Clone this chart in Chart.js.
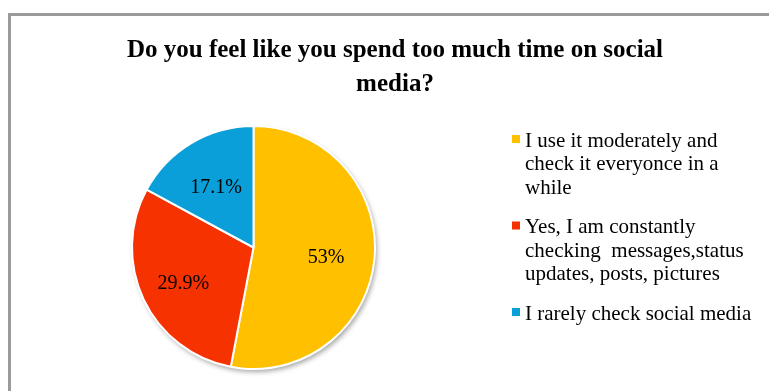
<!DOCTYPE html>
<html>
<head>
<meta charset="utf-8">
<script src="https://cdn.jsdelivr.net/npm/chart.js@4/dist/chart.umd.min.js"></script>
<style>
  html, body { margin: 0; padding: 0; background: #fff; }
  #wrap { width: 769px; height: 391px; position: relative; }
</style>
</head>
<body>
<div id="wrap"><canvas id="pieChart" width="769" height="391"></canvas></div>
<script>
// survey answers
const labels = [
    ['I use it moderately and', 'check it everyonce in a', 'while'],
    ['Yes, I am constantly', 'checking  messages,status', 'updates, posts, pictures'],
    ['I rarely check social media']
];
const values = [53, 29.9, 17.1];
const valueLabels = ['53%', '29.9%', '17.1%'];
const colors = ['#FFC000', '#F53200', '#0A9FD8'];
const titleLines = ['Do you feel like you spend too much time on social', 'media?'];

// how far out along the radius each percent label sits
const labelRadius = [0.6, 0.64, 0.6];

const serif = '"Liberation Serif", "Times New Roman", serif';

// frame, shadow behind the pie, title, percent labels and the legend
const decorPlugin = {
    id: 'decor',
    beforeDraw(chart) {
        const ctx = chart.ctx;
        ctx.save();
        ctx.fillStyle = '#fff';
        ctx.fillRect(0, 0, chart.width, chart.height);
        ctx.strokeStyle = '#9a9a9a';
        ctx.lineWidth = 3;
        ctx.strokeRect(9.5, 14.5, 900, 500);
        ctx.restore();
    },
    beforeDatasetsDraw(chart) {
        const arc = chart.getDatasetMeta(0).data[0];
        if (!arc) return;
        const ctx = chart.ctx;
        ctx.save();
        ctx.shadowColor = 'rgba(0,0,0,0.35)';
        ctx.shadowBlur = 5;
        ctx.shadowOffsetX = 2;
        ctx.shadowOffsetY = 3;
        ctx.fillStyle = '#fff';
        ctx.beginPath();
        ctx.arc(arc.x, arc.y, arc.outerRadius, 0, Math.PI * 2);
        ctx.fill();
        ctx.restore();
    },
    afterDraw(chart) {
        const ctx = chart.ctx;
        ctx.save();

        // title
        ctx.fillStyle = '#000';
        ctx.font = 'bold 25px ' + serif;
        ctx.textAlign = 'center';
        ctx.textBaseline = 'middle';
        titleLines.forEach((t, i) => ctx.fillText(t, 395, 51 + i * 34));

        // percent labels inside slices
        ctx.font = '20px ' + serif;
        chart.getDatasetMeta(0).data.forEach((arc, i) => {
            const mid = (arc.startAngle + arc.endAngle) / 2;
            const r = arc.outerRadius * labelRadius[i];
            ctx.fillText(valueLabels[i], arc.x + Math.cos(mid) * r, arc.y + Math.sin(mid) * r + 3);
        });

        // legend
        ctx.font = '21px ' + serif;
        ctx.textAlign = 'left';
        let y = 141;
        labels.forEach((lines, i) => {
            ctx.fillStyle = colors[i];
            ctx.fillRect(512, y - 6, 8, 8);
            ctx.fillStyle = '#000';
            lines.forEach((line, j) => ctx.fillText(line, 525, y + j * 23.5));
            y += lines.length * 23.5 + 16;
        });
        ctx.restore();
    }
};

const ctx = document.getElementById('pieChart').getContext('2d');
new Chart(ctx, {
    type: 'pie',
    data: {
        labels: labels.map(l => l.join(' ')),
        datasets: [{
            data: values,
            backgroundColor: colors,
            borderColor: '#fff',
            borderWidth: 2
        }]
    },
    options: {
        responsive: false,
        animation: false,
        layout: {
            padding: { left: 17, right: 279, top: 125, bottom: 21 }
        },
        plugins: {
            legend: { display: false },
            title: { display: false },
            tooltip: { enabled: false }
        }
    },
    plugins: [decorPlugin]
});
</script>
</body>
</html>
